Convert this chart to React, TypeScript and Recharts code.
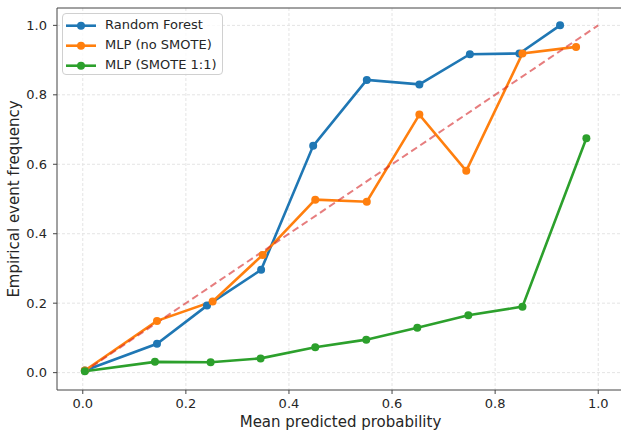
import React from 'react';
import { LineChart, Line, XAxis, YAxis, CartesianGrid, ReferenceLine } from 'recharts';

const rfX = [0.004, 0.144, 0.241, 0.346, 0.447, 0.551, 0.653, 0.751, 0.847, 0.926];
const rfY = [0.006, 0.083, 0.193, 0.296, 0.653, 0.843, 0.830, 0.917, 0.919, 1.0];
const mlpX = [0.004, 0.144, 0.252, 0.349, 0.451, 0.551, 0.653, 0.744, 0.853, 0.957];
const mlpY = [0.006, 0.149, 0.205, 0.339, 0.498, 0.492, 0.743, 0.581, 0.919, 0.938];
const smoteX = [0.004, 0.140, 0.248, 0.345, 0.451, 0.550, 0.649, 0.748, 0.853, 0.977];
const smoteY = [0.004, 0.031, 0.030, 0.041, 0.073, 0.095, 0.129, 0.165, 0.190, 0.675];
const diagX = [0, 1];
const diagY = [0, 1];
const ticks = [0, 0.2, 0.4, 0.6, 0.8, 1.0];

const seriesNames = ['Random Forest', 'MLP (no SMOTE)', 'MLP (SMOTE 1:1)'];
const colors = ['#1f77b4', '#ff7f0e', '#2ca02c'];

const zip = (xs: number[], ys: number[]) => xs.map((x, i) => ({ x, y: ys[i] }));
const rf = zip(rfX, rfY);
const mlp = zip(mlpX, mlpY);
const smote = zip(smoteX, smoteY);
const diag = zip(diagX, diagY);

const FONT = '"DejaVu Sans", sans-serif';
const tickStyle = { fontSize: 13, fill: '#262626', fontFamily: FONT };

const YLabel = (props: any) => {
  const vb = props.viewBox || { x: 0, y: 8, height: 382 };
  const cy = vb.y + vb.height / 2;
  return (
    <text
      transform={`translate(18.5, ${cy}) rotate(-90)`}
      textAnchor="middle"
      fontSize={15}
      fontFamily={FONT}
      fill="#262626"
    >
      Empirical event frequency
    </text>
  );
};

const XLabel = (props: any) => {
  const vb = props.viewBox || { x: 57, y: 390, width: 567 };
  const cx = vb.x + vb.width / 2;
  return (
    <text x={cx} y={426.5} textAnchor="middle" fontSize={15} fontFamily={FONT} fill="#262626">
      Mean predicted probability
    </text>
  );
};

const LegendBox = () => (
  <div
    style={{
      position: 'absolute',
      left: 62,
      top: 13,
      width: 159,
      height: 60,
      border: '1px solid #d0d0d0',
      borderRadius: 4,
      background: 'rgba(255,255,255,0.8)',
      fontFamily: FONT,
      fontSize: 13,
      color: '#262626',
    }}
  >
    {seriesNames.map((n, i) => (
      <div key={n} style={{ position: 'absolute', left: 0, top: 2 + i * 20, height: 20, width: 159 }}>
        <svg width={40} height={20} style={{ position: 'absolute', left: 0, top: 0 }}>
          <line x1={3} y1={9.7} x2={33} y2={9.7} stroke={colors[i]} strokeWidth={2.6} />
          <circle cx={18} cy={9.7} r={4} fill={colors[i]} />
        </svg>
        <span style={{ position: 'absolute', left: 42, top: 1, lineHeight: '16px', whiteSpace: 'nowrap' }}>{n}</span>
      </div>
    ))}
  </div>
);

export default function App() {
  return (
    <div style={{ position: 'absolute', left: 0, top: 0, width: 621, height: 432, overflow: 'hidden', background: '#fff' }}>
      <LineChart width={624} height={432} margin={{ top: 8, right: 0, bottom: 0, left: 0 }}>
        <CartesianGrid stroke="#e4e4e4" strokeDasharray="3 2" horizontalValues={ticks} verticalValues={ticks} />
        <XAxis
          dataKey="x"
          type="number"
          domain={[-0.05, 1.05]}
          ticks={ticks}
          tickFormatter={(v: number) => v.toFixed(1)}
          allowDuplicatedCategory={false}
          height={42}
          tick={tickStyle}
          tickSize={4}
          tickMargin={5}
          stroke="#444"
          axisLine={{ stroke: '#444' }}
          tickLine={{ stroke: '#444' }}
          label={<XLabel />}
        />
        <YAxis
          dataKey="y"
          type="number"
          domain={[-0.05, 1.05]}
          ticks={ticks}
          tickFormatter={(v: number) => v.toFixed(1)}
          width={57}
          tick={tickStyle}
          tickSize={4}
          tickMargin={6}
          axisLine={{ stroke: '#444' }}
          tickLine={{ stroke: '#444' }}
          label={<YLabel />}
        />
        <ReferenceLine y={1.05} stroke="#444" strokeWidth={1} />
        <Line data={rf} dataKey="y" name={seriesNames[0]} stroke={colors[0]} strokeWidth={2.6}
          dot={{ r: 4, fill: colors[0], stroke: colors[0], strokeWidth: 0 }} isAnimationActive={false} />
        <Line data={mlp} dataKey="y" name={seriesNames[1]} stroke={colors[1]} strokeWidth={2.6}
          dot={{ r: 4, fill: colors[1], stroke: colors[1], strokeWidth: 0 }} isAnimationActive={false} />
        <Line data={smote} dataKey="y" name={seriesNames[2]} stroke={colors[2]} strokeWidth={2.6}
          dot={{ r: 4, fill: colors[2], stroke: colors[2], strokeWidth: 0 }} isAnimationActive={false} />
        <Line data={diag} dataKey="y" stroke="#d62728" strokeOpacity={0.6} strokeWidth={2}
          strokeDasharray="7 4" dot={false} isAnimationActive={false} />
      </LineChart>
      <LegendBox />
    </div>
  );
}
